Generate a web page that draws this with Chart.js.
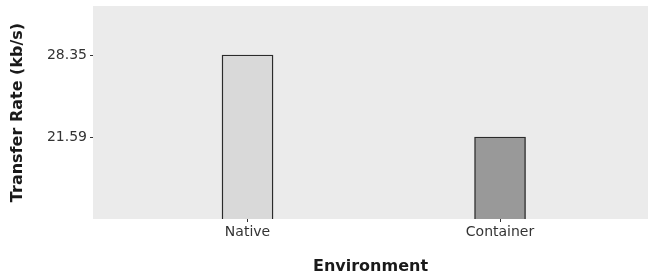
<!DOCTYPE html>
<html><head><meta charset="utf-8">
<script src="https://cdn.jsdelivr.net/npm/chart.js@4"></script>
<style>html,body{margin:0;padding:0;background:#fff}#wrap{width:648px;height:276px}</style>
</head><body><div id="wrap"><canvas id="c" width="648" height="276"></canvas></div>
<script>
const categories = ["Native", "Container"];
const values = [28.35, 21.59];
const yTicks = [21.59, 28.35];
const fills = ["#D9D9D9", "#999999"];

const bg = {id:'bg', beforeDraw(ch){const a=ch.chartArea,c=ch.ctx;c.save();c.fillStyle='#EBEBEB';c.fillRect(a.left,a.top,a.right-a.left,a.bottom-a.top);c.restore();}};

new Chart(document.getElementById('c'), {
  type: 'bar',
  data: { datasets: [{
    data: categories.map((c,i)=>({x:i+1, y:values[i]})),
    backgroundColor: fills, borderColor: '#2B2B2B', borderWidth: 1.4,
    barThickness: 51, borderSkipped: false
  }]},
  options: {
    responsive:false, animation:false, devicePixelRatio:1,
    layout:{padding:{top:6,right:0,left:0,bottom:0}},
    plugins:{legend:{display:false}, tooltip:{enabled:false}},
    scales:{
      x:{type:'linear', min:0.388, max:2.586, offset:false,
        afterBuildTicks(s){s.ticks=categories.map((c,i)=>({value:i+1}));},
        afterFit(s){s.height=57; s.paddingLeft=0; s.paddingRight=0;},
        ticks:{callback:(v)=>categories[v-1], color:'#333333', font:{family:'DejaVu Sans', size:14}, padding:2, maxRotation:0, autoSkip:false},
        grid:{offset:false, drawOnChartArea:false, drawTicks:true, tickLength:3, tickColor:'#333333'},
        border:{display:false},
        title:{display:true, text:'Environment', color:'#1A1A1A', font:{family:'DejaVu Sans', size:16, weight:'bold'}, padding:{top:0,bottom:0}}
      },
      y:{type:'linear', min:14.83, max:32.39,
        afterBuildTicks(s){s.ticks=yTicks.map(v=>({value:v}));},
        afterFit(s){s.width=93; s.paddingTop=0; s.paddingBottom=0;},
        ticks:{callback:(v)=>v.toFixed(2), color:'#333333', font:{family:'DejaVu Sans', size:14}, padding:3},
        grid:{drawOnChartArea:false, drawTicks:true, tickLength:3, tickColor:'#333333'},
        border:{display:false},
        title:{display:true, text:'Transfer Rate (kb/s)', color:'#1A1A1A', font:{family:'DejaVu Sans', size:16, weight:'bold'}, padding:{top:8,bottom:0}}
      }
    }
  },
  plugins:[bg]
});
</script></body></html>
